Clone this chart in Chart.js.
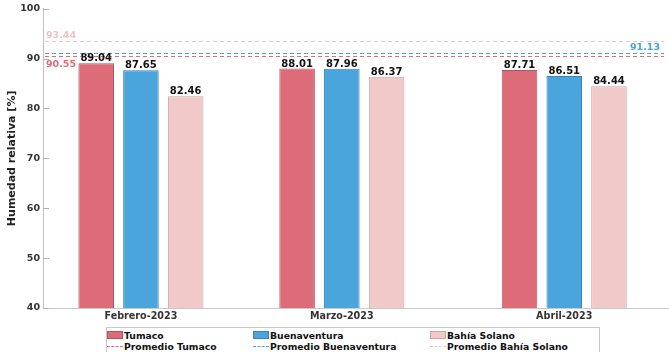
<!DOCTYPE html>
<html>
<head>
<meta charset="utf-8">
<script src="https://cdn.jsdelivr.net/npm/chart.js@4.4.0/dist/chart.umd.min.js"></script>
<style>
  body { margin: 0; background: #fff; }
  #wrap { position: relative; width: 669px; height: 352px; }
  #legend {
    position: absolute; left: 106px; top: 327px; width: 492px; height: 24px;
    border: 1px solid #c8c8c8; background: #fff;
    font: bold 9.25px "DejaVu Sans", sans-serif; color: #111;
  }
  .item { position: absolute; display: flex; align-items: center; white-space: nowrap; height: 12px; }
  .sw { width: 16px; height: 8px; box-sizing: border-box; border: 1px solid; margin-right: 1px; }
  .dash { width: 16px; height: 0; border-top: 1px dashed; margin-right: 1px; }
</style>
</head>
<body>
<div id="wrap">
  <canvas id="chart" width="669" height="352"></canvas>
  <div id="legend"></div>
</div>
<script>
// Data
const months = ["Febrero-2023", "Marzo-2023", "Abril-2023"];
const monthDays = [31, 59, 90]; // day of year for the 1st of each month
const stations = ["Tumaco", "Buenaventura", "Bahía Solano"];
const tumaco = [89.04, 88.01, 87.71];
const buenaventura = [87.65, 87.96, 86.51];
const bahiaSolano = [82.46, 86.37, 84.44];
const averages = [90.55, 91.13, 93.44];

const fills = ["#dd6b78", "#4aa5dc", "#f2c9c9"];
const borders = ["#a8566a", "#3a85b5", "#c9a3aa"];
const avgColors = ["#dd6b78", "#4aa5dc", "#f0c4c4"];

Chart.defaults.font.family = '"DejaVu Sans", sans-serif';

const series = [tumaco, buenaventura, bahiaSolano];

// Legend
const legend = document.getElementById("legend");
const colX = [0, 146, 323];
stations.forEach((name, i) => {
  let a = document.createElement("div");
  a.className = "item";
  a.style.left = colX[i] + "px";
  a.style.top = "1px";
  a.innerHTML = `<span class="sw" style="background:${fills[i]};border-color:${borders[i]}"></span>${name}`;
  legend.appendChild(a);

  let b = document.createElement("div");
  b.className = "item";
  b.style.left = colX[i] + "px";
  b.style.top = "12px";
  b.innerHTML = `<span class="dash" style="border-color:${avgColors[i]}"></span>Promedio ${name}`;
  legend.appendChild(b);
});

// Average lines, inner ticks and value labels
const extras = {
  id: "extras",
  beforeDatasetsDraw(chart) {
    const { ctx, chartArea } = chart;
    const y = chart.scales.y;
    ctx.save();
    ctx.lineWidth = 1;
    ctx.setLineDash([4, 3]);
    averages.forEach((v, i) => {
      const py = Math.round(y.getPixelForValue(v)) + 0.5;
      ctx.strokeStyle = avgColors[i];
      ctx.beginPath();
      ctx.moveTo(chartArea.left + 2, py);
      ctx.lineTo(chartArea.right - 5, py);
      ctx.stroke();
    });
    ctx.setLineDash([]);
    ctx.strokeStyle = "#b0b0b0";
    y.ticks.forEach(t => {
      const py = Math.round(y.getPixelForValue(t.value)) + 0.5;
      ctx.beginPath();
      ctx.moveTo(chartArea.left, py);
      ctx.lineTo(chartArea.left + 6, py);
      ctx.stroke();
    });
    ctx.restore();
  },
  afterDatasetsDraw(chart) {
    const { ctx, chartArea } = chart;
    const y = chart.scales.y;
    ctx.save();
    ctx.font = 'bold 10px "DejaVu Sans"';
    ctx.fillStyle = "#111";
    ctx.textAlign = "center";
    ctx.textBaseline = "alphabetic";
    chart.data.datasets.forEach((ds, di) => {
      chart.getDatasetMeta(di).data.forEach((bar, i) => {
        ctx.fillText(ds.data[i].y.toFixed(2), bar.x, bar.y - 2);
      });
    });
    ctx.font = 'bold 9.5px "DejaVu Sans"';
    ctx.textAlign = "left";
    ctx.fillStyle = avgColors[0];
    ctx.textBaseline = "top";
    ctx.fillText(averages[0].toFixed(2), chartArea.left + 3, y.getPixelForValue(averages[0]) + 4);
    ctx.textBaseline = "alphabetic";
    ctx.fillStyle = avgColors[2];
    ctx.fillText(averages[2].toFixed(2), chartArea.left + 3, y.getPixelForValue(averages[2]) - 3);
    ctx.textAlign = "right";
    ctx.fillStyle = avgColors[1];
    ctx.fillText(averages[1].toFixed(2), chartArea.right - 9, y.getPixelForValue(averages[1]) - 3);
    ctx.restore();
  }
};

new Chart(document.getElementById("chart"), {
  type: "bar",
  data: {
    datasets: stations.map((name, i) => ({
      label: name,
      data: series[i].map((v, j) => ({ x: monthDays[j], y: v })),
      backgroundColor: fills[i],
      borderColor: borders[i],
      borderWidth: 1
    }))
  },
  options: {
    responsive: false,
    animation: false,
    layout: { padding: { top: 7, left: 0, right: 0, bottom: 0 } },
    datasets: { bar: { categoryPercentage: 0.668, barPercentage: 0.795 } },
    plugins: { legend: { display: false }, tooltip: { enabled: false } },
    scales: {
      x: {
        type: "linear",
        min: 17.35,
        max: 104.6,
        offset: false,
        afterBuildTicks: s => { s.ticks = monthDays.map(v => ({ value: v })); },
        afterFit: s => { s.height = 44; },
        ticks: {
          callback: (v, i) => months[i],
          autoSkip: false,
          maxRotation: 0,
          padding: 3,
          color: "#333",
          font: { size: 9.6, weight: "bold" }
        },
        grid: { display: false, drawTicks: false },
        border: { color: "#c8c8c8" }
      },
      y: {
        min: 40,
        max: 100,
        afterFit: s => { s.width = 43; },
        ticks: { stepSize: 10, padding: 3, color: "#333", font: { size: 9.5, weight: "bold" } },
        grid: { display: false, drawTicks: false },
        border: { color: "#c0c0c0" },
        title: {
          display: true,
          text: "Humedad relativa [%]",
          color: "#222",
          font: { size: 11, weight: "bold" },
          padding: { top: 6, bottom: 0 }
        }
      }
    }
  },
  plugins: [extras]
});
</script>
</body>
</html>
